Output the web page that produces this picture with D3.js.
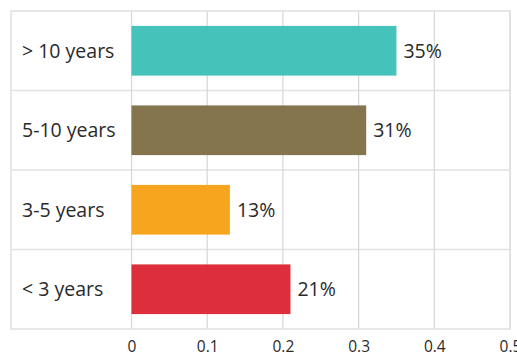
<!DOCTYPE html>
<html><head><meta charset="utf-8">
<script src="https://cdn.jsdelivr.net/npm/d3@7"></script>
<style>body{margin:0;background:#fff}svg{display:block}text{font-family:"Open Sans",sans-serif}</style>
</head><body>
<svg id="c" width="517" height="356"></svg>
<script>
const categories = ["> 10 years", "5-10 years", "3-5 years", "< 3 years"];
const values = [0.35, 0.31, 0.13, 0.21];
const labels = ["35%", "31%", "13%", "21%"];
const colors = ["#45c2b9", "#84754f", "#f7a51f", "#dd2f3b"];
const ticks = [0, 0.1, 0.2, 0.3, 0.4, 0.5];
const tickLabels = ["0", "0.1", "0.2", "0.3", "0.4", "0.5"];

const svg = d3.select("#c");
const mLeft = 11, mRight = 510, mTop = 11, mBottom = 329, catW = 131.5;
const x = d3.scaleLinear().domain([0, 0.5]).range([catW, mRight]);
const y = d3.scaleBand().domain(categories).range([mTop, mBottom]).paddingInner(0).paddingOuter(0);
const barPad = 0.375;

// row lines
svg.selectAll("line.row").data(categories.slice(1)).enter().append("line")
  .attr("x1", mLeft).attr("x2", mRight)
  .attr("y1", d => y(d)).attr("y2", d => y(d))
  .attr("stroke", "#e2e2e2").attr("stroke-width", 1.5);
// vertical grid
svg.selectAll("line.grid").data(ticks).enter().append("line")
  .attr("x1", d => x(d)).attr("x2", d => x(d))
  .attr("y1", mTop).attr("y2", mBottom)
  .attr("stroke", "#d6d6d6").attr("stroke-width", 1.2);
// outer border
svg.append("rect").attr("x", mLeft).attr("y", mTop).attr("width", mRight - mLeft).attr("height", mBottom - mTop)
  .attr("fill", "none").attr("stroke", "#e0e0e0").attr("stroke-width", 1.5);

// bars
const bh = y.bandwidth() * (1 - barPad);
svg.selectAll("rect.bar").data(categories).enter().append("rect")
  .attr("x", x(0)).attr("y", d => y(d) + (y.bandwidth() - bh) / 2)
  .attr("width", (d, i) => x(values[i]) - x(0)).attr("height", bh)
  .attr("fill", (d, i) => colors[i]);

// value labels
svg.selectAll("text.val").data(categories).enter().append("text")
  .attr("x", (d, i) => x(values[i]) + 7).attr("y", d => y(d) + y.bandwidth() / 2)
  .attr("dy", "0.35em").attr("font-size", 19.5).attr("fill", "#2a2a2a")
  .text((d, i) => labels[i]);

// category labels
svg.selectAll("text.cat").data(categories).enter().append("text")
  .attr("x", 22).attr("y", d => y(d) + y.bandwidth() / 2)
  .attr("dy", "0.35em").attr("font-size", 19.5).attr("fill", "#2a2a2a")
  .text(d => d);

// x axis labels
const ax = d3.axisBottom(x).tickValues(ticks).tickFormat((d, i) => tickLabels[i]).tickSize(0).tickPadding(0);
const g = svg.append("g").attr("transform", `translate(0,352)`).call(ax);
g.select(".domain").remove();
g.selectAll("text").attr("y", 0).attr("dy", 0).attr("font-size", 15.5).attr("fill", "#2a2a2a").attr("font-family", "Open Sans, sans-serif");
</script>
</body></html>
